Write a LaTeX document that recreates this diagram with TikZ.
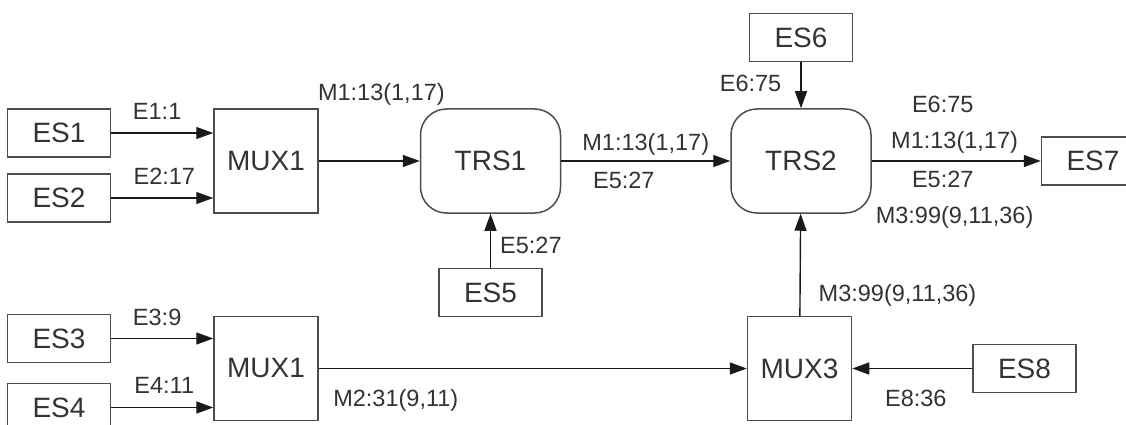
\documentclass[tikz,border=0pt]{standalone}
\usepackage{fontspec}
\setmainfont{Liberation Sans}
\usepackage{tikz}
\usetikzlibrary{arrows.meta, positioning}
\definecolor{edge}{HTML}{1A1A1A}
\definecolor{frame}{HTML}{4D4D4D}
\definecolor{ink}{HTML}{333333}

\begin{document}
\begin{tikzpicture}[
    src/.style={rectangle, draw=frame, line width=1.5pt, minimum width=103pt,
                minimum height=48pt, inner sep=0pt, font=\fontsize{28}{32}\selectfont,
                text=ink},
    mux/.style={src, minimum width=104pt, minimum height=104pt},
    trs/.style={src, rounded corners=26pt, minimum width=140pt, minimum height=104pt},
    arr/.style={-{Triangle[length=17pt, width=12pt]}, line width=1.4pt, draw=edge},
    lbl/.style={font=\fontsize{23.5}{27}\selectfont, text=ink, inner sep=0pt, anchor=base}
]
\useasboundingbox (0,0) rectangle (1126pt,-425pt);
\clip (0,0) rectangle (1126pt,-425pt);

% Nodes
\node[mux] (mux1) at (266pt,-161pt) {MUX1};
\node[mux, below=102pt of mux1] (mux2) {MUX1};
\node[src, left=102pt of mux1, yshift=28pt] (es1) {ES1};
\node[src, left=102pt of mux1, yshift=-37pt] (es2) {ES2};
\node[src, left=102pt of mux2, yshift=30pt] (es3) {ES3};
\node[src, left=102pt of mux2, yshift=-39pt] (es4) {ES4};
\node[trs, right=101pt of mux1] (trs1) {TRS1};
\node[src, below=54pt of trs1] (es5) {ES5};
\node[trs, right=169pt of trs1] (trs2) {TRS2};
\node[src, above=46pt of trs2] (es6) {ES6};
\node[src, right=169pt of trs2] (es7) {ES7};
\node[mux, right=428pt of mux2] (mux3) {MUX3};
\node[src, right=120pt of mux3] (es8) {ES8};

% Arrows
\draw[arr] (es1) -- (es1 -| mux1.west) node[lbl, pos=.45, yshift=13pt] {E1:1};
\draw[arr] (es2) -- (es2 -| mux1.west) node[lbl, pos=.52, yshift=14pt] {E2:17};
\draw[arr] (es3) -- (es3 -| mux2.west) node[lbl, pos=.45, yshift=13.5pt] {E3:9};
\draw[arr] (es4) -- (es4 -| mux2.west) node[lbl, pos=.52, yshift=14pt] {E4:11};
\draw[arr] (mux1) -- (trs1) node[lbl, pos=.62, yshift=60pt] {M1:13(1,17)};
\draw[arr] (trs1) -- (trs2)
    node[lbl, pos=.5, yshift=11pt] {M1:13(1,17)}
    node[lbl, pos=.37, yshift=-27pt] {E5:27};
\draw[arr] (es5) -- (trs1) node[lbl, anchor=base west, pos=.26, xshift=9pt] {E5:27};
\draw[arr] (es6) -- (trs2) node[lbl, anchor=base east, pos=.64, xshift=-19pt] {E6:75};
\draw[arr] (trs2) -- (es7)
    node[lbl, pos=.42, yshift=48pt] {E6:75}
    node[lbl, pos=.49, yshift=12.5pt] {M1:13(1,17)}
    node[lbl, pos=.42, yshift=-26.5pt] {E5:27}
    node[lbl, pos=.49, yshift=-62pt] {M3:99(9,11,36)};
\draw[arr] (mux2) -- (mux3) node[lbl, pos=.18, yshift=-38pt] {M2:31(9,11)};
\draw[arr] (mux3) -- (trs2) node[lbl, anchor=base west, pos=.14, xshift=18pt] {M3:99(9,11,36)};
\draw[arr] (es8) -- (mux3) node[lbl, pos=.47, yshift=-38pt] {E8:36};
\end{tikzpicture}
\end{document}
